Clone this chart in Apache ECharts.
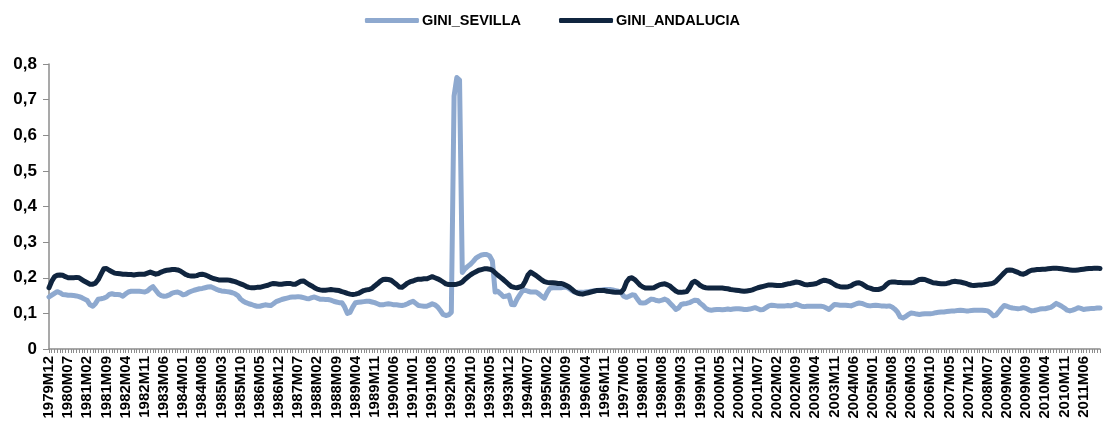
<!DOCTYPE html>
<html>
<head>
<meta charset="utf-8">
<script src="https://cdn.jsdelivr.net/npm/echarts@6/dist/echarts.min.js"></script>
<style>
html, body { margin: 0; padding: 0; background: #fff; }
#chart { width: 1105px; height: 427px; }
</style>
</head>
<body>
<div id="chart"></div>
<script>
// monthly series, first month 1979M12
var startYear = 1979;
var startMonth = 12;

var giniSevilla = [
	0.146,0.151,0.156,0.161,0.158,0.153,0.152,0.151,0.151,0.15,
	0.149,0.147,0.144,0.14,0.136,0.124,0.12,0.128,0.14,0.141,
	0.143,0.146,0.153,0.155,0.153,0.153,0.152,0.148,0.155,0.16,
	0.162,0.162,0.162,0.162,0.161,0.16,0.163,0.17,0.175,0.165,
	0.155,0.15,0.148,0.149,0.152,0.157,0.159,0.16,0.157,0.152,
	0.154,0.159,0.162,0.165,0.167,0.169,0.17,0.172,0.174,0.175,
	0.172,0.168,0.165,0.163,0.162,0.161,0.16,0.158,0.155,0.15,
	0.14,0.134,0.13,0.127,0.125,0.122,0.12,0.12,0.122,0.124,
	0.123,0.122,0.127,0.133,0.136,0.139,0.141,0.143,0.145,0.146,
	0.146,0.147,0.146,0.144,0.142,0.141,0.144,0.146,0.143,0.14,
	0.14,0.139,0.139,0.137,0.134,0.132,0.13,0.13,0.118,0.1,
	0.103,0.118,0.13,0.131,0.132,0.133,0.134,0.134,0.132,0.13,
	0.127,0.124,0.124,0.126,0.127,0.126,0.124,0.124,0.123,0.122,
	0.124,0.127,0.131,0.134,0.128,0.122,0.121,0.12,0.12,0.123,
	0.127,0.124,0.118,0.108,0.097,0.094,0.096,0.103,0.71,0.762,
	0.755,0.215,0.225,0.232,0.238,0.246,0.255,0.26,0.264,0.265,
	0.265,0.261,0.247,0.16,0.162,0.155,0.147,0.148,0.151,0.125,
	0.124,0.14,0.152,0.163,0.165,0.162,0.16,0.16,0.16,0.155,
	0.148,0.143,0.158,0.17,0.172,0.172,0.172,0.172,0.173,0.174,
	0.17,0.164,0.16,0.159,0.159,0.159,0.16,0.161,0.162,0.163,
	0.164,0.165,0.166,0.167,0.167,0.167,0.166,0.164,0.162,0.159,
	0.148,0.145,0.148,0.152,0.151,0.14,0.13,0.129,0.13,0.135,
	0.14,0.139,0.136,0.135,0.137,0.14,0.136,0.128,0.12,0.111,
	0.115,0.125,0.127,0.128,0.13,0.134,0.137,0.136,0.128,0.122,
	0.114,0.11,0.109,0.11,0.111,0.111,0.11,0.111,0.112,0.111,
	0.112,0.113,0.113,0.112,0.111,0.111,0.112,0.114,0.116,0.113,
	0.11,0.111,0.116,0.121,0.123,0.122,0.121,0.121,0.121,0.121,
	0.122,0.121,0.123,0.126,0.123,0.12,0.119,0.12,0.12,0.12,
	0.12,0.12,0.12,0.119,0.115,0.111,0.118,0.125,0.124,0.123,
	0.123,0.123,0.122,0.121,0.124,0.127,0.129,0.128,0.125,0.122,
	0.121,0.122,0.123,0.122,0.121,0.121,0.12,0.121,0.118,0.112,
	0.104,0.09,0.087,0.091,0.097,0.101,0.1,0.098,0.097,0.098,
	0.099,0.099,0.099,0.1,0.102,0.103,0.104,0.104,0.105,0.106,
	0.107,0.107,0.108,0.109,0.108,0.107,0.107,0.108,0.109,0.109,
	0.109,0.109,0.108,0.107,0.101,0.093,0.095,0.104,0.114,0.122,
	0.12,0.117,0.115,0.114,0.113,0.114,0.116,0.114,0.11,0.107,
	0.108,0.11,0.112,0.113,0.113,0.115,0.117,0.122,0.128,0.124,
	0.12,0.115,0.109,0.107,0.109,0.112,0.116,0.114,0.111,0.112,
	0.113,0.114,0.114,0.115,0.115
];

var giniAndalucia = [
	0.172,0.19,0.203,0.207,0.208,0.207,0.203,0.2,0.2,0.2,
	0.201,0.2,0.195,0.19,0.186,0.182,0.182,0.185,0.195,0.21,
	0.225,0.226,0.221,0.217,0.213,0.212,0.211,0.21,0.21,0.209,
	0.209,0.208,0.209,0.21,0.21,0.21,0.213,0.216,0.213,0.21,
	0.212,0.216,0.219,0.221,0.222,0.223,0.223,0.222,0.219,0.214,
	0.209,0.206,0.205,0.205,0.206,0.209,0.21,0.208,0.205,0.201,
	0.198,0.196,0.194,0.194,0.194,0.194,0.193,0.191,0.189,0.186,
	0.183,0.18,0.176,0.173,0.172,0.172,0.173,0.173,0.175,0.177,
	0.179,0.182,0.184,0.183,0.182,0.182,0.183,0.184,0.184,0.182,
	0.182,0.186,0.19,0.191,0.186,0.181,0.177,0.172,0.168,0.166,
	0.165,0.165,0.166,0.167,0.166,0.165,0.164,0.161,0.159,0.156,
	0.154,0.153,0.154,0.156,0.16,0.164,0.166,0.167,0.17,0.177,
	0.183,0.19,0.195,0.196,0.195,0.193,0.187,0.181,0.174,0.173,
	0.179,0.185,0.189,0.191,0.194,0.196,0.196,0.197,0.197,0.2,
	0.203,0.2,0.197,0.193,0.188,0.183,0.181,0.181,0.181,0.182,
	0.184,0.188,0.196,0.202,0.208,0.213,0.217,0.221,0.223,0.225,
	0.225,0.224,0.221,0.214,0.207,0.201,0.195,0.188,0.181,0.175,
	0.173,0.172,0.174,0.177,0.19,0.208,0.216,0.211,0.206,0.2,
	0.194,0.189,0.187,0.186,0.186,0.185,0.184,0.184,0.182,0.178,
	0.174,0.168,0.161,0.157,0.155,0.154,0.156,0.158,0.16,0.162,
	0.164,0.164,0.164,0.164,0.162,0.161,0.16,0.159,0.159,0.159,
	0.168,0.188,0.198,0.2,0.195,0.187,0.179,0.174,0.171,0.171,
	0.171,0.172,0.176,0.18,0.182,0.183,0.18,0.176,0.169,0.163,
	0.159,0.159,0.16,0.161,0.172,0.186,0.19,0.185,0.178,0.174,
	0.172,0.171,0.171,0.171,0.171,0.171,0.171,0.17,0.169,0.167,
	0.166,0.165,0.164,0.163,0.162,0.163,0.164,0.166,0.169,0.172,
	0.174,0.176,0.178,0.18,0.18,0.179,0.178,0.178,0.179,0.181,
	0.183,0.184,0.186,0.188,0.187,0.184,0.181,0.18,0.181,0.182,
	0.183,0.186,0.19,0.193,0.192,0.19,0.186,0.181,0.177,0.175,
	0.174,0.174,0.175,0.177,0.182,0.185,0.186,0.183,0.178,0.173,
	0.171,0.168,0.167,0.167,0.169,0.173,0.181,0.187,0.188,0.188,
	0.187,0.187,0.186,0.186,0.186,0.186,0.187,0.191,0.195,0.196,
	0.195,0.192,0.189,0.186,0.185,0.184,0.183,0.183,0.184,0.186,
	0.189,0.19,0.189,0.188,0.186,0.184,0.181,0.179,0.178,0.179,
	0.18,0.18,0.181,0.182,0.183,0.185,0.19,0.198,0.206,0.214,
	0.221,0.222,0.221,0.218,0.215,0.211,0.21,0.213,0.218,0.221,
	0.222,0.223,0.223,0.224,0.224,0.225,0.226,0.227,0.227,0.226,
	0.225,0.224,0.223,0.222,0.221,0.221,0.222,0.223,0.224,0.225,
	0.226,0.226,0.227,0.227,0.226
];

var yTicks = [0, 0.1, 0.2, 0.3, 0.4, 0.5, 0.6, 0.7, 0.8];

// build month labels like 1979M12
var months = [];
for (var i = 0; i < giniSevilla.length; i++) {
	var m = startMonth - 1 + i;
	var y = startYear + Math.floor(m / 12);
	var mm = (m % 12) + 1;
	months.push(y + 'M' + (mm < 10 ? '0' + mm : mm));
}

var axisGray = '#8c8c8c';
var font = 'Liberation Sans, Arial, sans-serif';

var chart = echarts.init(document.getElementById('chart'), null, { renderer: 'canvas' });
chart.setOption({
	animation: false,
	textStyle: { fontFamily: font },
	legend: {
		top: 8,
		left: 'center',
		icon: 'roundRect',
		itemWidth: 54,
		itemHeight: 5,
		itemGap: 38,
		textStyle: { fontSize: 14.5, fontWeight: 'bold', color: '#000', padding: [0, 0, 0, -2] },
		data: ['GINI_SEVILLA', 'GINI_ANDALUCIA']
	},
	grid: { left: 49, right: 5, top: 64, bottom: 78, containLabel: false },
	xAxis: {
		type: 'category',
		boundaryGap: false,
		data: months,
		axisLine: { lineStyle: { color: axisGray, width: 1.5 } },
		axisTick: { show: true, interval: 0, length: 4, lineStyle: { color: axisGray } },
		axisLabel: {
			interval: 6,
			rotate: 90,
			margin: 7,
			fontSize: 15,
			fontWeight: 'bold',
			color: '#000'
		},
		splitLine: { show: false }
	},
	yAxis: {
		type: 'value',
		min: yTicks[0],
		max: yTicks[yTicks.length - 1],
		interval: 0.1,
		axisLine: { show: true, lineStyle: { color: axisGray, width: 1.5 } },
		axisTick: { show: true, length: 6, lineStyle: { color: axisGray } },
		axisLabel: {
			margin: 12,
			fontSize: 17,
			fontWeight: 'bold',
			color: '#000',
			formatter: function(v) {
				return v === 0 ? '0' : v.toFixed(1).replace('.', ',');
			}
		},
		splitLine: { show: false }
	},
	series: [
		{
			name: 'GINI_SEVILLA',
			type: 'line',
			data: giniSevilla,
			showSymbol: false,
			color: '#8ea9cf',
			lineStyle: { width: 5, color: '#8ea9cf', cap: 'round', join: 'round' }
		},
		{
			name: 'GINI_ANDALUCIA',
			type: 'line',
			data: giniAndalucia,
			showSymbol: false,
			color: '#10253f',
			lineStyle: { width: 5, color: '#10253f', cap: 'round', join: 'round' }
		}
	]
});
</script>
</body>
</html>
